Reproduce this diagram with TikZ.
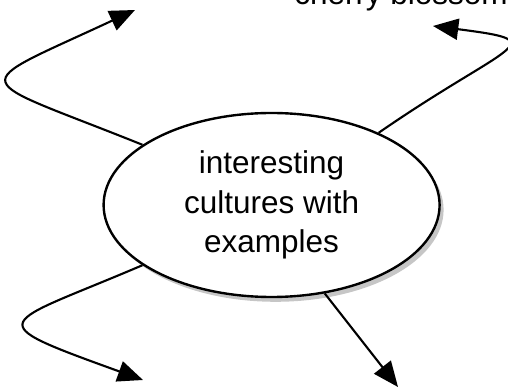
\documentclass[tikz,border=0pt]{standalone}
\usepackage{fontspec}
\setmainfont{Liberation Sans}
\usetikzlibrary{shapes.geometric, shadows, arrows.meta}

\begin{document}
\begin{tikzpicture}[line width=1.5pt, font=\fontsize{22.4}{28}\selectfont,
    topic/.style={ellipse, draw, line width=1.7pt, fill=white, align=center, minimum width=8.4cm, minimum height=4.6cm, inner sep=0pt,
      drop shadow={shadow xshift=0.1cm, shadow yshift=-0.12cm, opacity=0.45}},
    link/.style={-{Triangle[length=18pt, width=15pt]}}]
    \useasboundingbox (0, 0) rectangle (12.7, 9.725);

    \node[topic] (c) at (6.79, 4.6) {interesting\\cultures with\\examples};
    \node[anchor=base west, inner sep=0pt] (b) at (7.33, 9.6) {cherry blossom};

    \coordinate (ul) at (3.375, 9.475);
    \coordinate (ur) at (10.825, 9.075);
    \coordinate (ll) at (3.575, 0.225);
    \coordinate (lr) at (9.95, 0.05);

    \draw[link] (c.155) .. controls (-0.83, 7.87) and (-0.93, 7.47) .. (ul);
    \draw[link] (c.34) .. controls (12.76, 8.68) and (13.91, 8.68) .. (ur);
    \draw[link] (c.205) .. controls (-0.03, 1.56) and (-0.615, 1.74) .. (ll);
    \draw[link] (c.301) -- (lr);
  \end{tikzpicture}
\end{document}
